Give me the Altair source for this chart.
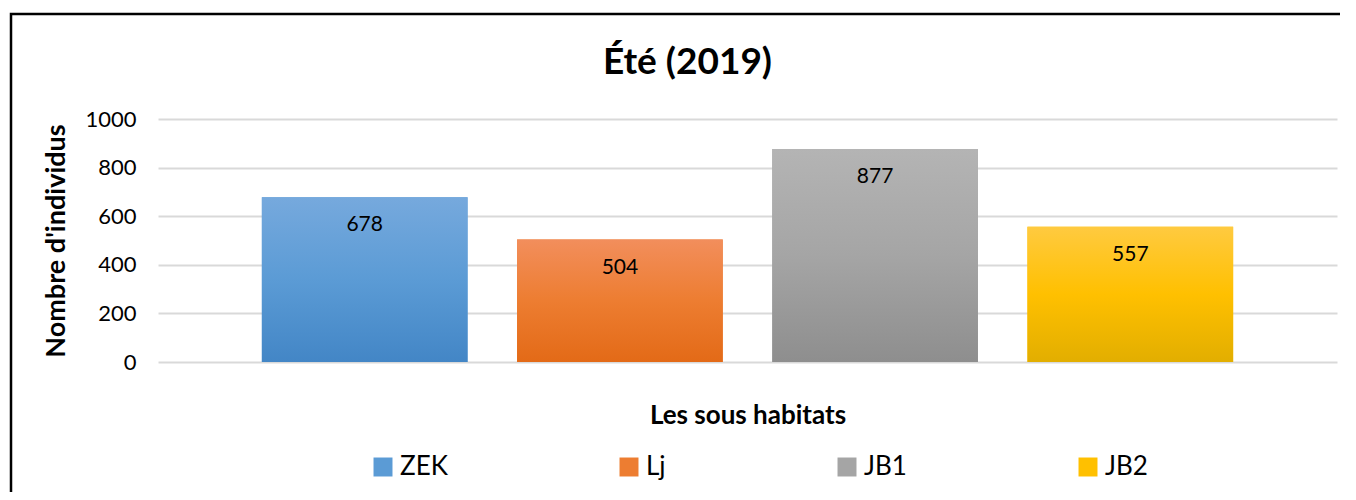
import altair as alt
import pandas as pd

categories = ["ZEK", "Lj", "JB1", "JB2"]
values = [678, 504, 877, 557]
y_ticks = [0, 200, 400, 600, 800, 1000]

base_colors = ["#5B9BD5", "#ED7D31", "#A5A5A5", "#FFC000"]
top_colors = ["#76A9DD", "#F28E5C", "#B4B4B4", "#FFCA40"]
bottom_colors = ["#4386C6", "#E36A17", "#8E8E8E", "#E2AE00"]

df = pd.DataFrame({"cat": categories, "val": values})

FONT = "Lato"

x_enc = alt.X("cat:N", sort=categories,
              scale=alt.Scale(paddingInner=0.194, paddingOuter=0.407),
              axis=alt.Axis(title="Les sous habitats", labels=False, ticks=False, domain=False,
                            titleFontSize=26, titleFontWeight="bold", titleFont=FONT,
                            titleColor="#000000", titlePadding=40))
y_enc = alt.Y("val:Q", scale=alt.Scale(domain=[0, 1000], nice=False),
              axis=alt.Axis(title="Nombre d'individus", values=y_ticks, format="d",
                            ticks=False, domain=False,
                            labelFontSize=22, labelFont=FONT, labelColor="#000000", labelPadding=22,
                            titleFontSize=27, titleFontWeight="bold", titleFont=FONT,
                            titleColor="#000000", titlePadding=14,
                            gridColor="#D9D9D9", gridWidth=2))

base = alt.Chart(df)

legend_bars = base.mark_bar().encode(
    x=x_enc, y=y_enc,
    color=alt.Color("cat:N", sort=categories,
                    scale=alt.Scale(domain=categories, range=base_colors),
                    legend=alt.Legend(title=None, orient="none", legendX=212, legendY=335,
                                      direction="horizontal", columns=4, columnPadding=168,
                                      symbolType="square", symbolSize=360, symbolStrokeWidth=0,
                                      labelFontSize=26, labelFont=FONT, labelColor="#000000",
                                      labelOffset=4)),
)

layers = [legend_bars]
for c, t, b, m in zip(categories, top_colors, bottom_colors, base_colors):
    grad = alt.LinearGradient(
        gradient="linear",
        stops=[alt.GradientStop(color=t, offset=0),
               alt.GradientStop(color=m, offset=0.5),
               alt.GradientStop(color=b, offset=1)],
        x1=0, x2=0, y1=0, y2=1)
    layers.append(
        base.mark_bar(color=grad).encode(x=x_enc, y=y_enc)
        .transform_filter(alt.datum.cat == c)
    )

labels = base.mark_text(baseline="top", dy=17, fontSize=21, font=FONT, color="#000000").encode(
    x=alt.X("cat:N", sort=categories), y="val:Q", text="val:Q")
layers.append(labels)

frame = alt.Chart(pd.DataFrame({"k": [0]})).mark_rect(
    fill="transparent", stroke="#000000", strokeWidth=2.5).encode(
    x=alt.value(-147), x2=alt.value(1260), y=alt.value(-105), y2=alt.value(420))
layers.append(frame)

chart = alt.layer(*layers).properties(
    width=1179, height=243,
    padding={"left": 150, "top": 111, "right": 3, "bottom": 130},
    autosize=alt.AutoSizeParams(type="none"),
    title=alt.TitleParams("Été (2019)", fontSize=37, fontWeight="bold", font=FONT,
                          color="#000000", anchor="middle", frame="group", dx=-60,
                          baseline="alphabetic", dy=98, offset=0),
).configure_view(stroke=None).configure_axis(labelFont=FONT)

chart.save("out.html", embed_options={"renderer": "svg", "actions": False})
